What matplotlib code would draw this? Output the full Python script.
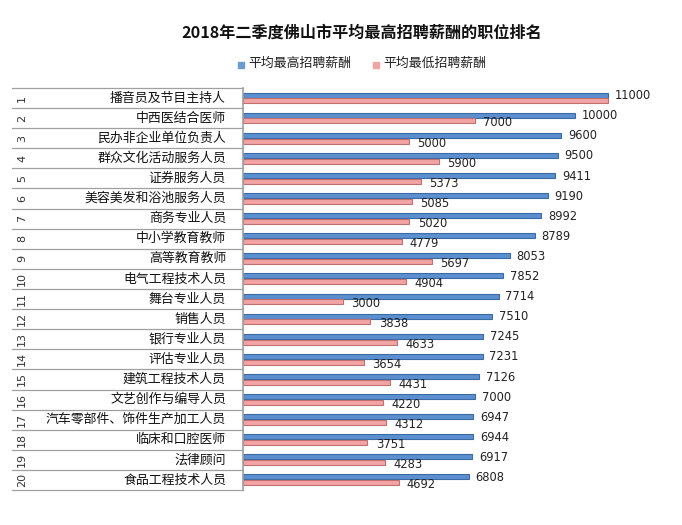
import numpy as np
import matplotlib
matplotlib.use('Agg')
import matplotlib.pyplot as plt
from matplotlib.patches import Rectangle

plt.rcParams['font.family'] = ['Noto Sans CJK SC', 'DejaVu Sans']

ranks = [str(i) for i in range(1, 21)]
jobs = ['播音员及节目主持人', '中西医结合医师', '民办非企业单位负责人', '群众文化活动服务人员',
        '证券服务人员', '美容美发和浴池服务人员', '商务专业人员', '中小学教育教师',
        '高等教育教师', '电气工程技术人员', '舞台专业人员', '销售人员',
        '银行专业人员', '评估专业人员', '建筑工程技术人员', '文艺创作与编导人员',
        '汽车零部件、饰件生产加工人员', '临床和口腔医师', '法律顾问', '食品工程技术人员']
max_pay = [11000, 10000, 9600, 9500, 9411, 9190, 8992, 8789, 8053, 7852,
           7714, 7510, 7245, 7231, 7126, 7000, 6947, 6944, 6917, 6808]
min_pay = [11000, 7000, 5000, 5900, 5373, 5085, 5020, 4779, 5697, 4904,
           3000, 3838, 4633, 3654, 4431, 4220, 4312, 3751, 4283, 4692]

blue = '#5B8FCF'
blue_edge = '#3B6BA5'
pink = '#F2A3A3'
pink_edge = '#C07070'

fig = plt.figure(figsize=(6.82, 5.25), dpi=100)
W, H = 682, 525
x0, x1, y_top, y_bot = 243, 641, 88, 490
ax = fig.add_axes([x0 / W, 1 - y_bot / H, (x1 - x0) / W, (y_bot - y_top) / H])

y = np.arange(len(jobs))
h = 0.25
ax.barh(y - 0.15, max_pay, height=h, color=blue, edgecolor=blue_edge, linewidth=0.8)
ax.barh(y + 0.14, min_pay, height=h, color=pink, edgecolor=pink_edge, linewidth=0.8)

ax.set_xlim(0, 12000)
ax.set_ylim(len(jobs) - 0.5, -0.5)
ax.set_xticks([])
ax.set_yticks([])
for s in ['top', 'right', 'bottom']:
    ax.spines[s].set_visible(False)
ax.spines['left'].set_color('#A0A0A0')
ax.spines['left'].set_linewidth(1.2)

for i, (hi, lo) in enumerate(zip(max_pay, min_pay)):
    ax.text(hi + 200, i - 0.12, str(hi), va='center', ha='left', fontsize=8.3,
            family='DejaVu Sans', color='#222222', clip_on=False)
    if lo != hi:
        ax.text(lo + 250, i + 0.24, str(lo), va='center', ha='left', fontsize=8.3,
                family='DejaVu Sans', color='#222222', clip_on=False)

# left table with rank and job name
trans = ax.get_yaxis_transform()
left = (12 - x0) / (x1 - x0)
for b in np.arange(-0.5, len(jobs), 1.0):
    ax.plot([left, 0], [b, b], color='#A0A0A0', lw=0.9, transform=trans, clip_on=False)
for i, (r, j) in enumerate(zip(ranks, jobs)):
    ax.text((22 - x0) / (x1 - x0), i, r, rotation=90, ha='center', va='center',
            fontsize=8, family='DejaVu Sans', color='#333333', transform=trans)
    ax.text((226 - x0) / (x1 - x0), i, j, ha='right', va='center',
            fontsize=9.3, color='#111111', transform=trans)

fig.text(362 / W, 1 - 33 / H, '2018年二季度佛山市平均最高招聘薪酬的职位排名',
         ha='center', va='center', fontsize=11.6, fontweight='bold', color='#111111')

# legend
fig.patches.append(Rectangle((238 / W, 1 - 68 / H), 6 / W, 6 / H, transform=fig.transFigure,
                             color='#6A9BD1'))
fig.text(248 / W, 1 - 63 / H, '平均最高招聘薪酬', ha='left', va='center', fontsize=9.3, color='#222222')
fig.patches.append(Rectangle((373 / W, 1 - 68 / H), 6 / W, 6 / H, transform=fig.transFigure,
                             color='#F0A5A5'))
fig.text(383 / W, 1 - 63 / H, '平均最低招聘薪酬', ha='left', va='center', fontsize=9.3, color='#222222')

fig.savefig('out.png', dpi=100)
